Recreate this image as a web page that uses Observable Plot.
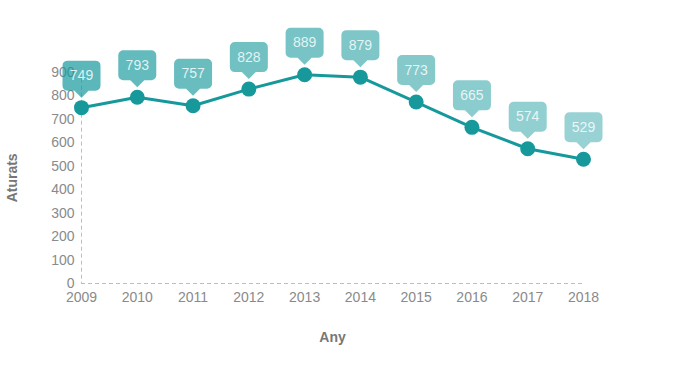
<!DOCTYPE html>
<html>
<head>
<meta charset="utf-8">
<script src="https://cdn.jsdelivr.net/npm/d3@7"></script>
<script src="https://cdn.jsdelivr.net/npm/@observablehq/plot@0.6"></script>
<style>
  html, body { margin: 0; padding: 0; background: #fff; }
  #chart svg { font-family: "Liberation Sans", Arial, sans-serif; }
  #chart [aria-label="y-axis label"] text,
  #chart [aria-label="x-axis label"] text { font-weight: bold; }
</style>
</head>
<body>
<div id="chart"></div>
<script>
const years = [2009, 2010, 2011, 2012, 2013, 2014, 2015, 2016, 2017, 2018];
const aturats = [749, 793, 757, 828, 889, 879, 773, 665, 574, 529];
const yTicks = [0, 100, 200, 300, 400, 500, 600, 700, 800, 900];
const xLabel = "Any";
const yLabel = "Aturats";

const data = years.map((year, i) => ({year, value: aturats[i], i}));

const teal = "#17999c";
const alpha = d3.scaleLinear().domain([0, years.length - 1]).range([0.70, 0.44]);

// callout: rounded box with a downward pointer, tip just above the point
const callout = {
  draw(ctx) {
    const w = 19, top = -47, bot = -17, r = 5, pw = 7, tip = -10;
    ctx.moveTo(-w + r, top);
    ctx.lineTo(w - r, top);
    ctx.arcTo(w, top, w, top + r, r);
    ctx.lineTo(w, bot - r);
    ctx.arcTo(w, bot, w - r, bot, r);
    ctx.lineTo(pw, bot);
    ctx.lineTo(0, tip);
    ctx.lineTo(-pw, bot);
    ctx.lineTo(-w + r, bot);
    ctx.arcTo(-w, bot, -w, bot - r, r);
    ctx.lineTo(-w, top + r);
    ctx.arcTo(-w, top, -w + r, top, r);
    ctx.closePath();
  }
};

const chart = Plot.plot({
  width: 694,
  height: 388,
  marginLeft: 81,
  marginRight: 111,
  marginTop: 71.7,
  marginBottom: 105,
  style: {fontFamily: "'Liberation Sans', Arial, sans-serif", background: "#fff"},
  x: {domain: [d3.min(years), d3.max(years)]},
  y: {domain: [0, 900]},
  marks: [
    Plot.ruleY([0], {stroke: "#bdbdbd", strokeDasharray: "4,3", strokeWidth: 1}),
    Plot.ruleX([d3.min(years)], {stroke: "#bdbdbd", strokeDasharray: "4,3", strokeWidth: 1}),
    Plot.axisX({
      ticks: years, tickFormat: d => String(d), tickSize: 0, tickPadding: 9,
      fontSize: 14, color: "#8a8a8a",
      label: xLabel, labelAnchor: "center", labelOffset: 58, labelArrow: "none"
    }),
    Plot.axisY({
      ticks: yTicks, tickSize: 0, tickPadding: 7,
      fontSize: 14, color: "#8a8a8a",
      label: yLabel, labelAnchor: "center", labelOffset: 74, labelArrow: "none"
    }),
    Plot.line(data, {x: "year", y: "value", stroke: teal, strokeWidth: 3}),
    Plot.dot(data, {x: "year", y: "value", r: 7.5, fill: teal}),
    Plot.dot(data, {
      x: "year", y: "value", symbol: callout, r: 10,
      fill: d => `rgba(23,153,156,${alpha(d.i).toFixed(3)})`
    }),
    Plot.text(data, {
      x: "year", y: "value", text: d => String(d.value), dy: -32,
      fill: "#ffffff", fillOpacity: 0.82, fontSize: 14
    })
  ]
});
chart.querySelectorAll('[aria-label="x-axis label"] text, [aria-label="y-axis label"] text')
  .forEach(t => { t.setAttribute("fill", "#777"); t.style.fontWeight = "bold"; });
document.getElementById("chart").appendChild(chart);
</script>
</body>
</html>
